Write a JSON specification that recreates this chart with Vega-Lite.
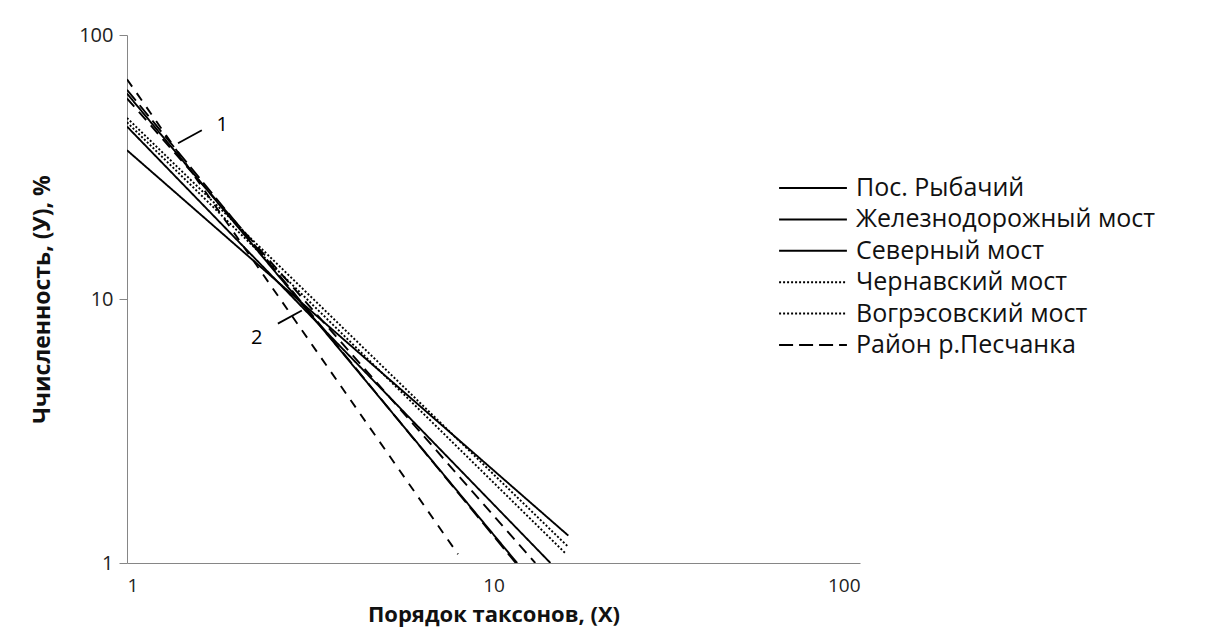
{
  "$schema": "https://vega.github.io/schema/vega-lite/v6.json",
  "width": 733,
  "height": 528,
  "autosize": {"type": "none"},
  "padding": {"left": 127, "top": 35, "right": 353, "bottom": 72},
  "background": "white",
  "config": {
    "view": {"stroke": null},
    "font": "Open Sans",
    "axis": {
      "domainColor": "#868686",
      "tickColor": "#868686",
      "labelColor": "#222222",
      "titleColor": "#111111",
      "labelFont": "Open Sans",
      "titleFont": "Open Sans",
      "grid": false
    }
  },
  "datasets": {
    "lines": [
      {"series": "доп. 2", "x": 1, "y": 68},
      {"series": "доп. 2", "x": 8.0, "y": 1.08},
      {"series": "Район р.Песчанка", "x": 1, "y": 62},
      {"series": "Район р.Песчанка", "x": 11.5, "y": 1.0},
      {"series": "Северный мост", "x": 1, "y": 60},
      {"series": "Северный мост", "x": 11.6, "y": 1.0},
      {"series": "доп. 1", "x": 1, "y": 57.5},
      {"series": "доп. 1", "x": 13.0, "y": 1.0},
      {"series": "Железнодорожный мост", "x": 1, "y": 45},
      {"series": "Железнодорожный мост", "x": 14.3, "y": 1.0},
      {"series": "Чернавский мост", "x": 1, "y": 46.7},
      {"series": "Чернавский мост", "x": 15.7, "y": 1.09},
      {"series": "Вогрэсовский мост", "x": 1, "y": 48.5},
      {"series": "Вогрэсовский мост", "x": 15.9, "y": 1.16},
      {"series": "Пос. Рыбачий", "x": 1, "y": 36.6},
      {"series": "Пос. Рыбачий", "x": 16, "y": 1.27}
    ],
    "labels": [
      {"label": "1", "x": 1.82, "y": 45.5},
      {"label": "2", "x": 2.26, "y": 7.14}
    ],
    "leaders": [
      {"x": 1.60, "y": 43.6, "x2": 1.378, "y2": 38.9},
      {"x": 2.58, "y": 8.07, "x2": 3.0, "y2": 9.04}
    ]
  },
  "layer": [
    {
      "data": {"name": "lines"},
      "mark": {"type": "line", "color": "black", "strokeWidth": 1.9, "clip": true},
      "encoding": {
        "x": {
          "field": "x", "type": "quantitative",
          "scale": {"type": "log", "domain": [1, 100], "nice": false},
          "axis": {
            "values": [1, 10, 100], "format": "d", "ticks": false,
            "labelFontSize": 19, "labelPadding": 13,
            "title": "Порядок таксонов, (X)", "titleFontSize": 22, "titleFontWeight": "bold", "titlePadding": 9
          }
        },
        "y": {
          "field": "y", "type": "quantitative",
          "scale": {"type": "log", "domain": [1, 100], "nice": false},
          "axis": {
            "values": [1, 10, 100], "format": "d", "tickSize": 8,
            "labelFontSize": 20, "labelPadding": 6,
            "title": "Ччисленность, (У),  %", "titleFontSize": 23, "titleFontWeight": "bold", "titlePadding": 24
          }
        },
        "detail": {"field": "series"},
        "strokeDash": {
          "field": "series", "type": "nominal",
          "scale": {
            "domain": ["Пос. Рыбачий", "Железнодорожный мост", "Северный мост", "Чернавский мост", "Вогрэсовский мост", "Район р.Песчанка", "доп. 1", "доп. 2"],
            "range": [[1, 0], [1, 0], [1, 0], [2, 2], [2, 2], [14, 6], [11, 7], [9, 8]]
          },
          "legend": {
            "values": ["Пос. Рыбачий", "Железнодорожный мост", "Северный мост", "Чернавский мост", "Вогрэсовский мост", "Район р.Песчанка"],
            "title": null,
            "orient": "none",
            "legendX": 668,
            "legendY": 135,
            "symbolType": "M-2,0L2,0",
            "symbolSize": 1150,
            "symbolStrokeWidth": 2,
            "symbolStrokeColor": "black",
            "symbolFillColor": "transparent",
            "labelFontSize": 25,
            "labelLimit": 500,
            "labelColor": "#111111",
            "labelFont": "Open Sans",
            "labelOffset": 25,
            "rowPadding": 0.4
          }
        }
      }
    },
    {
      "data": {"name": "leaders"},
      "mark": {"type": "rule", "color": "black", "strokeWidth": 1.8},
      "encoding": {
        "x": {"field": "x", "type": "quantitative"},
        "y": {"field": "y", "type": "quantitative"},
        "x2": {"field": "x2"},
        "y2": {"field": "y2"}
      }
    },
    {
      "data": {"name": "labels"},
      "mark": {"type": "text", "fontSize": 20, "color": "black", "font": "Open Sans"},
      "encoding": {
        "x": {"field": "x", "type": "quantitative"},
        "y": {"field": "y", "type": "quantitative"},
        "text": {"field": "label"}
      }
    }
  ]
}
